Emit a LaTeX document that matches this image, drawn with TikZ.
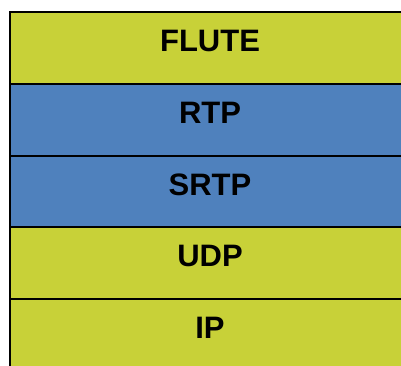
\documentclass[tikz,border=0pt]{standalone}
\usepackage{fontspec}
\setmainfont{Liberation Sans}
\usetikzlibrary{positioning}
\definecolor{layergreen}{RGB}{200,209,56}
\definecolor{layerblue}{RGB}{79,129,189}
\tikzset{
    layer/.style={draw, line width=2pt, minimum width=400pt, minimum height=71.75pt,
        inner sep=0pt, outer sep=0pt},
    layertext/.style={font=\bfseries\fontsize{31}{31}\selectfont, inner sep=0pt}
}
\begin{document}
\begin{tikzpicture}[x=1pt,y=1pt]
    \useasboundingbox (0,0) rectangle (401,365);
    \clip (0,0) rectangle (401,365);
    \node[layer, fill=layergreen, anchor=north west] (flute) at (10,353)
        {};
    \node[layer, fill=layerblue, below=0pt of flute] (rtp) {};
    \node[layer, fill=layerblue, below=0pt of rtp] (srtp) {};
    \node[layer, fill=layergreen, below=0pt of srtp] (udp) {};
    \node[layer, fill=layergreen, below=0pt of udp] (ip) {};
    \node[layertext, yshift=7pt] (fluteText) at (flute.center) {FLUTE};
    \node[layertext, yshift=7pt] (rtpText) at (rtp.center) {RTP};
    \node[layertext, yshift=7pt] (srtpText) at (srtp.center) {SRTP};
    \node[layertext, yshift=7pt] (udpText) at (udp.center) {UDP};
    \node[layertext, yshift=7pt] (ipText) at (ip.center) {IP};
\end{tikzpicture}
\end{document}
